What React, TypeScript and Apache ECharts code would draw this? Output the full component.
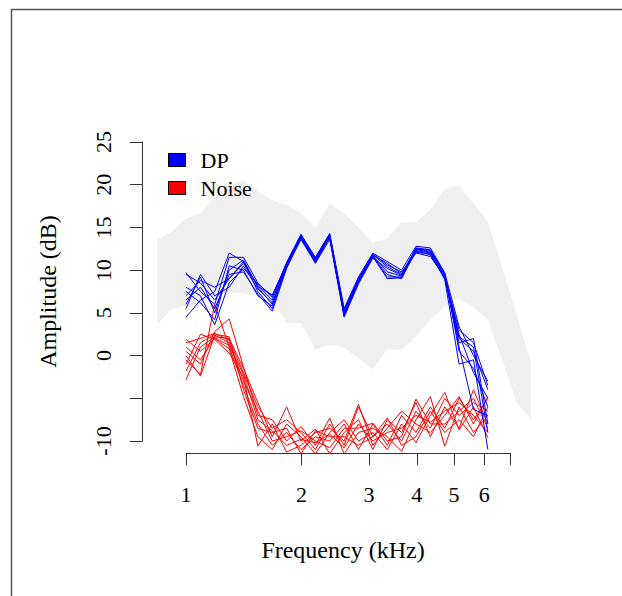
import React, { useEffect, useRef } from "react";
import * as echarts from "echarts";

// Frequencies (kHz) of the measured points (1/8-octave steps)
const lineFreqs = [1.0, 1.091, 1.189, 1.297, 1.414, 1.542, 1.682, 1.834, 2.0, 2.181, 2.378, 2.594, 2.828, 3.084, 3.364, 3.668, 4.0, 4.362, 4.757, 5.187, 5.657, 6.169];

// Normative band frequencies and bounds (dB)
const bandFreqs = [0.841, 0.917, 1.0, 1.091, 1.189, 1.297, 1.414, 1.542, 1.682, 1.834, 2.0, 2.181, 2.378, 2.594, 2.828, 3.084, 3.364, 3.668, 4.0, 4.362, 4.757, 5.187, 5.657, 6.169, 6.727, 7.336, 8.0];
const bandUpper = [13.55, 14.5, 16.0, 16.7, 18.6, 20.0, 20.5, 19.2, 18.2, 17.6, 16.7, 15.0, 17.8, 16.7, 15.0, 13.2, 13.75, 15.6, 15.6, 17.1, 19.5, 19.9, 17.8, 15.7, 10.3, 4.8, -0.8];
const bandLower = [3.6, 5.45, 5.8, 6.0, 6.8, 7.5, 7.3, 7.0, 6.5, 3.8, 3.8, 0.7, 1.3, 0.9, -0.3, -1.6, 0.7, 0.7, 2.25, 4.2, 5.75, 6.7, 5.6, 4.2, -0.5, -5.5, -7.5];

// DP amplitude curves (dB)
const dp1 = [9.5, 8.5, 6.5, 9.0, 10.8, 8.2, 6.5, 10.8, 14.0, 11.4, 14.2, 5.2, 8.8, 11.8, 10.8, 9.6, 12.5, 12.2, 9.4, 2.0, 0.5, -4.0];
const dp2 = [6.0, 9.2, 5.0, 10.0, 11.2, 8.0, 6.0, 10.6, 13.8, 11.0, 13.9, 4.6, 8.6, 11.6, 9.2, 9.2, 12.2, 11.8, 9.0, 3.0, 1.5, -3.5];
const dp3 = [4.5, 6.5, 7.5, 12.0, 11.0, 7.5, 5.5, 10.4, 13.6, 10.8, 13.6, 4.5, 8.4, 11.4, 10.2, 9.4, 12.6, 12.4, 9.6, 0.5, -1.5, -6.0];
const dp4 = [8.0, 7.0, 3.6, 8.5, 10.2, 8.4, 7.0, 10.8, 14.1, 11.3, 14.1, 5.4, 9.0, 11.9, 10.6, 9.8, 12.0, 11.6, 9.2, 1.5, 2.0, -8.0];
const dp5 = [6.5, 8.0, 5.5, 9.5, 9.8, 7.2, 5.2, 10.2, 13.7, 10.9, 13.8, 4.8, 8.7, 11.5, 9.5, 9.0, 12.3, 12.0, 8.9, -1.0, -0.5, -11.0];
const dp6 = [9.7, 7.5, 6.0, 11.5, 11.5, 8.5, 6.8, 10.9, 14.2, 11.5, 14.3, 5.5, 9.2, 12.0, 11.0, 10.0, 12.8, 12.6, 9.7, 3.4, 0.0, -3.0];
const dp7 = [5.5, 9.5, 7.0, 8.0, 10.5, 7.8, 6.2, 10.5, 13.9, 11.2, 14.0, 5.0, 8.5, 11.7, 9.8, 9.3, 12.1, 11.9, 9.1, 2.5, -2.0, -5.0];
const dp8 = [7.5, 6.2, 4.2, 10.5, 10.0, 7.0, 5.8, 10.7, 14.0, 11.1, 14.0, 4.9, 8.9, 11.8, 10.4, 9.5, 12.4, 12.1, 9.3, 1.0, -6.3, -7.0];
const dp9 = [7.0, 8.8, 8.0, 9.0, 11.0, 8.1, 7.1, 10.6, 13.8, 11.3, 13.9, 5.1, 8.8, 11.6, 9.0, 9.1, 12.5, 12.3, 9.5, 2.2, 1.0, -9.0];

// Noise floor curves (dB)
const nz1 = [1.5, 2.0, 2.6, 1.8, -2.0, -6.0, -8.5, -7.5, -9.0, -11.0, -8.0, -10.5, -6.0, -9.5, -8.0, -10.0, -6.5, -8.5, -5.0, -7.0, -5.5, -6.5];
const nz2 = [-0.5, -2.2, 6.0, 1.0, -3.5, -8.0, -10.5, -9.0, -11.0, -9.5, -10.0, -8.0, -11.0, -8.0, -10.5, -7.0, -9.0, -6.0, -8.5, -5.0, -7.5, -5.0];
const nz3 = [-2.8, 1.0, 2.2, 2.0, -1.5, -5.5, -9.5, -6.0, -10.0, -8.6, -11.5, -9.0, -7.5, -11.0, -7.5, -9.0, -5.5, -9.5, -6.0, -8.5, -4.0, -8.0];
const nz4 = [0.5, -1.0, 2.8, 4.3, -1.3, -7.0, -7.5, -10.0, -8.3, -10.5, -7.3, -11.5, -9.0, -8.5, -9.5, -11.2, -7.5, -4.8, -10.6, -6.0, -9.0, -7.0];
const nz5 = [1.9, 0.5, 2.0, 0.8, -4.8, -9.5, -11.0, -8.0, -9.5, -11.5, -9.0, -7.5, -10.0, -9.0, -11.0, -8.0, -10.2, -7.0, -4.3, -8.7, -6.0, -9.6];
const nz6 = [-1.0, 2.5, 1.9, 0.3, -2.5, -10.6, -8.0, -11.3, -10.5, -9.0, -8.5, -10.0, -5.7, -10.5, -8.5, -6.5, -8.0, -9.0, -7.0, -4.8, -8.0, -4.8];
const nz7 = [0.0, -2.4, 2.4, 1.5, -3.0, -6.5, -10.0, -9.5, -8.8, -10.0, -10.8, -8.5, -8.5, -7.9, -10.0, -9.5, -5.1, -8.0, -8.0, -6.5, -5.0, -8.5];
const nz8 = [-1.8, 1.5, 2.5, 2.2, -4.0, -8.5, -9.0, -8.5, -11.5, -8.8, -9.5, -9.5, -10.5, -9.5, -7.3, -10.5, -9.5, -6.5, -9.0, -7.5, -9.5, -6.0];
const nz9 = [1.0, -0.5, 2.1, 1.2, -2.2, -7.5, -8.8, -10.5, -9.8, -10.2, -9.2, -10.8, -8.0, -10.0, -9.0, -8.5, -7.0, -7.8, -6.5, -5.5, -7.0, -9.0];

const dpCurves = [dp1, dp2, dp3, dp4, dp5, dp6, dp7, dp8, dp9];
const noiseCurves = [nz1, nz2, nz3, nz4, nz5, nz6, nz7, nz8, nz9];

// Axis ticks
const xTickFreqs = [1, 2, 3, 4, 5, 6, 7];
const xLabelFreqs = [1, 2, 3, 4, 5, 6];
const yTicks = [-10, -5, 0, 5, 10, 15, 20, 25];
const yHiddenLabels = [-5];

const FONT = "Liberation Serif";

export default function App() {
  const ref = useRef<HTMLDivElement>(null);

  useEffect(() => {
    if (!ref.current) return;
    const chart = echarts.init(ref.current, undefined, { renderer: "svg", width: 622, height: 596 });
    const lg = (f: number) => Math.log10(f);
    const txt = { fontFamily: FONT, fontSize: 22, color: "#000" };
    const titleTxt = { fontFamily: FONT, fontSize: 24, color: "#000" };

    const lineSeries = (curves: number[][], name: string, color: string) =>
      curves.map((c) => ({
        type: "line",
        name,
        xAxisIndex: 0,
        yAxisIndex: 0,
        data: c.map((v, i) => [lg(lineFreqs[i]), v]),
        symbol: "none",
        showSymbol: false,
        clip: true,
        silent: true,
        itemStyle: { color },
        lineStyle: { color, width: 1 },
        z: 3,
      }));

    const option: any = {
      animation: false,
      textStyle: { fontFamily: FONT },
      graphic: [
        {
          type: "rect",
          shape: { x: 11.5, y: 9.5, width: 800, height: 800 },
          style: { fill: "none", stroke: "#555", lineWidth: 1.5 },
          silent: true,
        },
      ],
      grid: [
        { left: 142, right: 78, top: 130, bottom: 143 },
        { left: 186, right: 112, top: 142, bottom: 155 },
      ],
      xAxis: [
        {
          type: "value",
          gridIndex: 0,
          min: -0.1152,
          max: 0.9372,
          axisLine: { show: false, onZero: false },
          axisTick: { show: false },
          axisLabel: { show: false },
          splitLine: { show: false },
          name: "Frequency (kHz)",
          nameLocation: "middle",
          nameGap: 85,
          nameTextStyle: titleTxt,
        },
        {
          type: "value",
          gridIndex: 1,
          min: 0,
          max: lg(7),
          position: "bottom",
          offset: 12,
          axisLine: { show: true, onZero: false, lineStyle: { color: "#333", width: 1 } },
          axisTick: { show: true, length: 12, customValues: xTickFreqs.map(lg), lineStyle: { color: "#333" } },
          axisLabel: {
            show: true,
            customValues: xLabelFreqs.map(lg),
            formatter: (v: number) => String(Math.round(Math.pow(10, v))),
            margin: 30,
            ...txt,
          },
          splitLine: { show: false },
        },
      ],
      yAxis: [
        {
          type: "value",
          gridIndex: 0,
          min: -11.4,
          max: 26.4,
          axisLine: { show: false, onZero: false },
          axisTick: { show: false },
          axisLabel: { show: false },
          splitLine: { show: false },
          name: "Amplitude (dB)",
          nameLocation: "middle",
          nameGap: 82,
          nameTextStyle: titleTxt,
        },
        {
          type: "value",
          gridIndex: 1,
          min: -10,
          max: 25,
          interval: 5,
          position: "left",
          offset: 44,
          axisLine: { show: true, onZero: false, lineStyle: { color: "#333", width: 1 } },
          axisTick: { show: true, length: 12, lineStyle: { color: "#333" } },
          axisLabel: {
            show: true,
            rotate: 90,
            margin: 28,
            formatter: (v: number) => (yHiddenLabels.includes(v) || !yTicks.includes(v) ? "" : String(v)),
            ...txt,
          },
          splitLine: { show: false },
        },
      ],
      legend: {
        orient: "vertical",
        left: 163,
        top: 144,
        itemWidth: 17,
        itemHeight: 13,
        itemGap: 6,
        icon: "rect",
        selectedMode: false,
        data: [
          { name: "DP", itemStyle: { color: "#0000ff", borderColor: "#000", borderWidth: 1 } },
          { name: "Noise", itemStyle: { color: "#ff0000", borderColor: "#000", borderWidth: 1 } },
        ],
        textStyle: { ...txt, padding: [0, 0, 0, 10] },
      },
      series: [
        {
          type: "custom",
          name: "band",
          xAxisIndex: 0,
          yAxisIndex: 0,
          silent: true,
          z: 1,
          data: [[0, 0]],
          renderItem: (_params: any, api: any) => {
            const up = bandUpper.map((v, i) => api.coord([lg(bandFreqs[i]), v]));
            const lo = bandLower.map((v, i) => api.coord([lg(bandFreqs[i]), v])).reverse();
            return {
              type: "polygon",
              shape: { points: up.concat(lo) },
              style: { fill: "#efefef", stroke: "none" },
            };
          },
        },
        ...lineSeries(noiseCurves, "Noise", "#ff0000"),
        ...lineSeries(dpCurves, "DP", "#0000ff"),
      ],
    };

    chart.setOption(option);
    return () => chart.dispose();
  }, []);

  return (
    <div style={{ position: "fixed", left: 0, top: 0, width: 622, height: 596, background: "#fff" }}>
      <div ref={ref} style={{ width: 622, height: 596 }} />
    </div>
  );
}
